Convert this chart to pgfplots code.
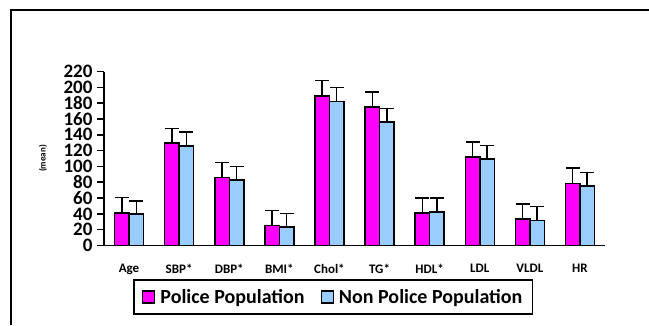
\documentclass[border=0pt]{standalone}
\usepackage{pgfplots}
\pgfplotsset{compat=1.18}
\usepackage{pgfplotstable}
\usepackage{fontspec}
\setmainfont{Carlito}
\definecolor{police}{RGB}{255,0,255}
\definecolor{nonpolice}{RGB}{153,204,255}
\pgfplotstableread{
x y e
0 41.0 19.7
1 129.5 18.5
2 86.0 19.0
3 25.3 19.0
4 189.3 19.3
5 175.0 19.0
6 41.0 19.0
7 112.0 19.0
8 33.7 19.0
9 78.4 19.4
}\police
\pgfplotstableread{
x y e
0 39.7 16.8
1 125.6 17.8
2 82.7 17.3
3 23.2 17.3
4 182.0 18.0
5 156.0 17.0
6 42.2 17.8
7 109.6 16.8
8 31.6 17.4
9 75.5 16.8
}\nonpolice
\begin{document}
\begin{tikzpicture}
\useasboundingbox (0pt,0pt) rectangle (649pt,325pt);
\draw[line width=2pt] (11pt,0pt) -- (11pt,315pt) -- (649pt,315pt);
\begin{axis}[
  at={(104pt,79.5pt)}, anchor=south west,
  scale only axis, width=501pt, height=174pt,
  xmin=-0.5, xmax=9.5, ymin=0, ymax=220,
  axis x line*=bottom, axis y line*=left,
  axis line style={line width=1.5pt},
  ybar=0pt, bar width=14.5pt,
  ytick={0,20,...,220},
  xtick={0,...,9},
  xticklabels={Age,SBP*,DBP*,BMI*,Chol*,TG*,HDL*,LDL,VLDL,HR},
  xtick style={draw=none},
  minor xtick={-0.5,0.5,...,9.5},
  minor x tick style={line width=1.5pt, black},
  ytick style={line width=1.5pt, black},
  tick align=outside,
  major tick length=7pt, minor tick length=5pt,
  /pgf/number format/assume math mode=true,
  yticklabel style={font=\fontsize{19}{19}\selectfont\bfseries, inner ysep=0pt, xshift=-1pt},
  xticklabel style={font=\fontsize{13}{13}\selectfont\bfseries, yshift=-8pt},
  ylabel={(mean)},
  ylabel style={font=\fontsize{9}{9}\selectfont\bfseries, at={(axis description cs:-0.122,0.5)}, anchor=center},
  legend columns=2,
  legend style={at={(0.4575,-0.296)}, anchor=center, draw=black, line width=1.5pt,
    font=\fontsize{20}{20}\selectfont\bfseries, inner xsep=8pt, inner ysep=7pt,
    /tikz/every even column/.append style={column sep=14pt}},
  legend image code/.code={\draw[#1, line width=1.2pt] (0pt,-6pt) rectangle (12pt,6pt); \path (15pt,0pt);},
  error bars/y dir=plus, error bars/y explicit,
  error bars/error bar style={line width=1.5pt, black},
  error bars/error mark options={rotate=90, mark size=7pt, line width=1.5pt, black},
]
\addplot[fill=police, draw=black, line width=1.5pt] table[x=x, y=y, y error=e] {\police};
\addplot[fill=nonpolice, draw=black, line width=1.5pt] table[x=x, y=y, y error=e] {\nonpolice};
\legend{Police Population, Non Police Population}
\end{axis}
\end{tikzpicture}
\end{document}
